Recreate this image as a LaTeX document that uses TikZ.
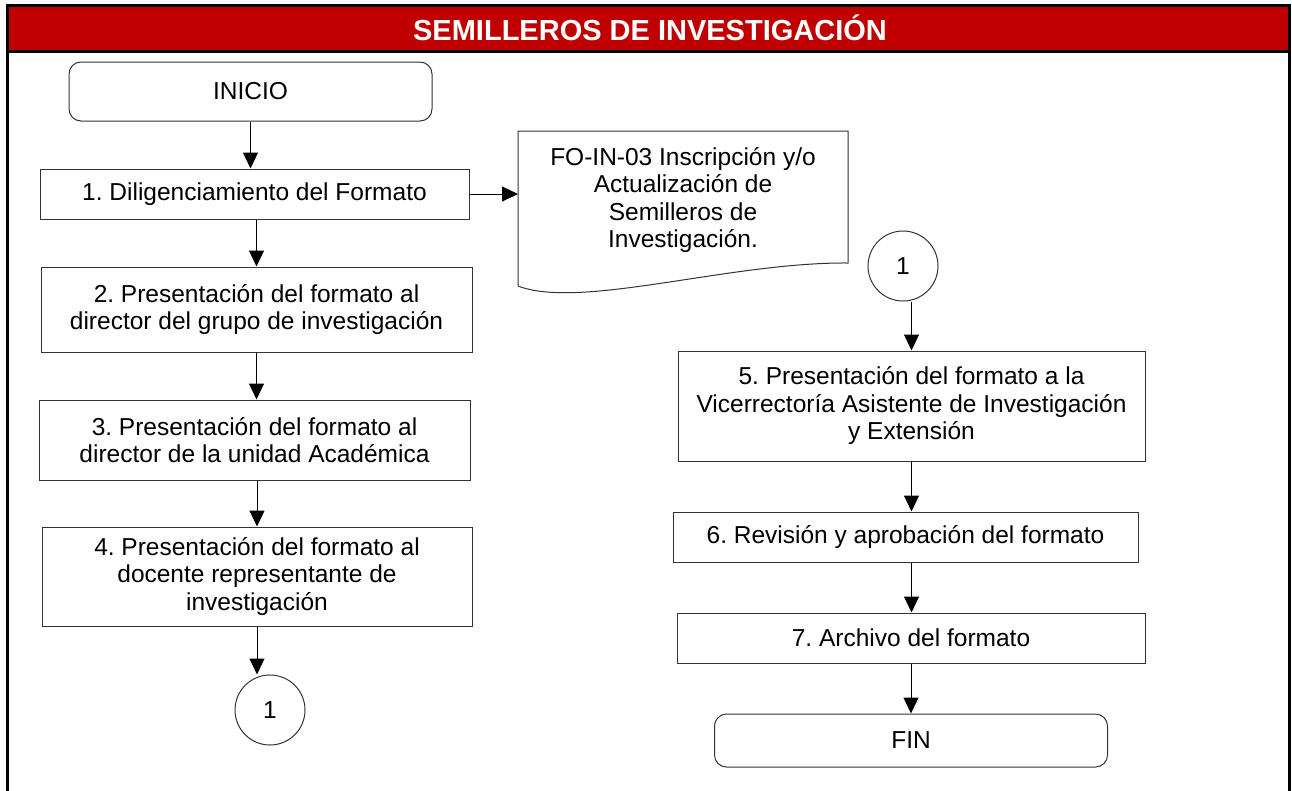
\documentclass[tikz,border=0pt]{standalone}
\usepackage{fontspec}
\setmainfont{Liberation Sans}
\usetikzlibrary{arrows.meta,positioning,calc}
\definecolor{headred}{RGB}{192,0,0}
\frenchspacing

\begin{document}
\begin{tikzpicture}[
  x=1pt, y=-1pt,
  font=\fontsize{24.5}{27.5}\selectfont,
  terminal/.style={draw=black!80, line width=1pt, rounded corners=12pt, align=center, inner sep=0pt},
  process/.style={draw=black!80, line width=1pt, align=center, inner sep=0pt},
  link/.style={draw=black!80, line width=1pt, circle, minimum size=70pt, inner sep=0pt},
  docline/.style={draw=black!80, line width=1pt},
  arrow/.style={-{Triangle[length=16pt,width=15pt]}, line width=1pt}
]

\useasboundingbox (0,0) rectangle (1292,790);

% marco y encabezado
\fill[headred] (7,5.5) rectangle (1289.5,51.5);
\draw[line width=3pt] (7,800) -- (7,5.5) -- (1289.5,5.5) -- (1289.5,800);
\draw[line width=3pt] (7,51.5) -- (1289.5,51.5);
\node[font=\fontsize{29}{32}\selectfont\bfseries, text=white, anchor=base] (title) at (650,40) {SEMILLEROS DE INVESTIGACIÓN};

% columna izquierda
\node[terminal, minimum width=363pt, minimum height=59pt] (ini) at (250.5,91.5) {INICIO};
\node[process, minimum width=429pt, minimum height=50pt, below=47pt of ini, xshift=4pt] (p1) {1. Diligenciamiento del Formato};
\node[process, minimum width=431pt, minimum height=85pt, below=47pt of p1, xshift=2pt] (p2) {2. Presentación del formato al\\director del grupo de investigación};
\node[process, minimum width=431pt, minimum height=80pt, below=47pt of p2, xshift=-2pt] (p3) {3. Presentación del formato al\\director de la unidad Académica};
\node[process, minimum width=430pt, minimum height=99pt, below=46pt of p3, xshift=2.5pt] (p4) {4. Presentación del formato al\\docente representante de\\investigación};
\node[link, below=48pt of p4, xshift=13pt] (c1) {1};

% documento
\node[align=center, inner sep=0pt] (doc) at (683,200) {FO-IN-03 Inscripción y/o\\Actualización de\\Semilleros de\\Investigación.};
\path (doc.center) ++(-165,-69) coordinate (dtl) ++(330,0) coordinate (dtr)
  ++(0,132) coordinate (dbr) ++(-330,23) coordinate (dbl);
\draw[docline] (dbl) -- (dtl) -- (dtr) -- (dbr)
  .. controls ($(dbr)+(-118,-1)$) and ($(dbl)+(62,24)$) .. (dbl);

% columna derecha
\node[link] (c2) at (903,266) {1};
\node[process, minimum width=467pt, minimum height=110pt, below=49pt of c2, xshift=8.5pt] (p5) {5. Presentación del formato a la\\Vicerrectoría Asistente de Investigación\\y Extensión};
\node[process, minimum width=465pt, minimum height=50pt, below=50pt of p5, xshift=-6pt] (p6) {6. Revisión y aprobación del formato};
\node[process, minimum width=468pt, minimum height=50pt, below=50pt of p6, xshift=5.5pt] (p7) {7. Archivo del formato};
\node[terminal, minimum width=393pt, minimum height=53pt, below=50pt of p7] (fin) {FIN};

% flechas
\draw[arrow] (ini.south) -- (ini.south |- p1.north);
\draw[arrow] (p2.north |- p1.south) -- (p2.north);
\draw[arrow] (p2.south) -- (p2.south |- p3.north);
\draw[arrow] (p4.north |- p3.south) -- (p4.north);
\draw[arrow] (p4.south) -- (p4.south |- c1.north);
\draw[arrow] (p1.east) -- (p1.east -| dtl);
\draw[arrow] (c2.south -| p5.north) -- (p5.north);
\draw[arrow] (p5.south) -- (p5.south |- p6.north);
\draw[arrow] (p5.south |- p6.south) -- (p5.south |- p7.north);
\draw[arrow] (p7.south) -- (p7.south |- fin.north);

\end{tikzpicture}
\end{document}
